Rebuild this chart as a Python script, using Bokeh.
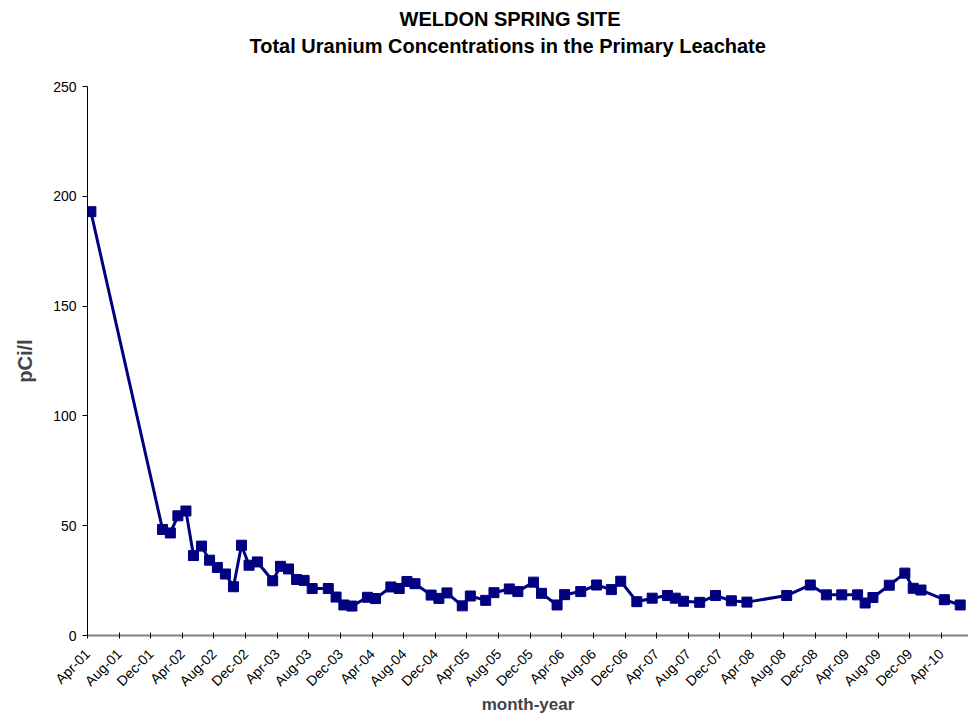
import math
import pandas as pd
from bokeh.plotting import figure
from bokeh.models import FixedTicker, DatetimeTickFormatter, Range1d, Title, ColumnDataSource
from bokeh.embed import file_html
from bokeh.resources import INLINE

# ---- data ----
dates = [
    "2001-04-14",
    "2002-01-15", "2002-02-14", "2002-03-15", "2002-04-15", "2002-05-14", "2002-06-14",
    "2002-07-15", "2002-08-14", "2002-09-14", "2002-10-15", "2002-11-15", "2002-12-14",
    "2003-01-15", "2003-03-15", "2003-04-14", "2003-05-15", "2003-06-15", "2003-07-14",
    "2003-08-14", "2003-10-15", "2003-11-14", "2003-12-14",
    "2004-01-14", "2004-03-14", "2004-04-14", "2004-06-12", "2004-07-14", "2004-08-13",
    "2004-09-13", "2004-11-14", "2004-12-14",
    "2005-01-14", "2005-03-14", "2005-04-14", "2005-06-12", "2005-07-14", "2005-09-11",
    "2005-10-14", "2005-12-13",
    "2006-01-13", "2006-03-14", "2006-04-12", "2006-06-13", "2006-08-13", "2006-10-09",
    "2006-11-14",
    "2007-01-15", "2007-03-15", "2007-05-13", "2007-06-12", "2007-07-14", "2007-09-14",
    "2007-11-14",
    "2008-01-14", "2008-03-14", "2008-08-14", "2008-11-13",
    "2009-01-14", "2009-03-14", "2009-05-14", "2009-06-12", "2009-07-12", "2009-09-13",
    "2009-11-12", "2009-12-14",
    "2010-01-13", "2010-04-13", "2010-06-13",
]
uranium = [
    193.0,
    48.3, 46.7, 54.5, 56.7, 36.4, 40.7,
    34.3, 31.0, 28.0, 22.2, 41.1, 32.0,
    33.5, 24.9, 31.5, 30.3, 25.5, 25.1,
    21.4, 21.4, 17.5, 13.9,
    13.4, 17.4, 16.8, 22.1, 21.4, 24.6,
    23.6, 18.4, 16.9,
    19.4, 13.5, 18.0, 16.0, 19.5, 21.2,
    20.0, 24.3,
    19.2, 13.9, 18.6, 20.0, 23.0, 20.9,
    24.7,
    15.4, 17.0, 18.2, 17.0, 15.6, 15.1,
    18.2,
    15.8, 15.2, 18.2, 23.0,
    18.5, 18.5, 18.5, 14.8, 17.3, 22.9,
    28.4, 21.5,
    20.7, 16.3, 13.9,
]
tick_dates = [f"{y}-{m:02d}-01" for y in range(2001, 2011) for m in (4, 8, 12)
              if not (y == 2010 and m > 4)]
y_ticks = [0, 50, 100, 150, 200, 250]

title_line1 = "WELDON SPRING SITE"
title_line2 = "Total Uranium Concentrations in the Primary Leachate"

# ---- build ----
src = ColumnDataSource(dict(x=pd.to_datetime(dates), y=uranium))

def ms(s):
    return pd.Timestamp(s).value / 1e6

p = figure(width=968, height=716, x_axis_type="datetime",
           output_backend="svg", toolbar_location=None,
           x_range=Range1d(ms("2001-04-01"), ms("2010-07-15")),
           y_range=Range1d(0, 250),
           min_border_left=87, min_border_right=0, min_border_top=86, min_border_bottom=81)
p.outline_line_color = None
p.xgrid.grid_line_color = None
p.ygrid.grid_line_color = None
p.background_fill_color = "white"
p.border_fill_color = "white"

p.line("x", "y", source=src, line_color="#000080", line_width=3)
p.scatter("x", "y", source=src, marker="square", size=10, fill_color="#000080",
          line_color="#000080")

# titles (stacked outward from the plot frame)
spacer = Title(text=" ", align="left", text_font="Liberation Sans",
               text_font_size="20px", standoff=3)
t2 = Title(text=title_line2, align="left", text_font="Liberation Sans",
           text_font_size="20px", text_font_style="bold", text_color="black",
           offset=162, standoff=6)
t1 = Title(text=title_line1, align="left", text_font="Liberation Sans",
           text_font_size="20px", text_font_style="bold", text_color="black",
           offset=312, standoff=0)
p.add_layout(spacer, "above")
p.add_layout(t2, "above")
p.add_layout(t1, "above")

# x axis
xa = p.xaxis[0]
xa.ticker = FixedTicker(ticks=[ms(d) for d in tick_dates], minor_ticks=[])
xa.formatter = DatetimeTickFormatter(days="%b-%y", months="%b-%y", years="%b-%y",
                                     hours="%b-%y", minutes="%b-%y")
xa.major_label_orientation = math.pi / 4
xa.major_label_text_font = "Liberation Sans"
xa.major_label_text_font_size = "14px"
xa.major_label_text_color = "black"
xa.major_label_standoff = 13
xa.axis_line_color = "#808080"
xa.axis_line_width = 2
xa.major_tick_line_color = "black"
xa.major_tick_in = 3
xa.major_tick_out = 3
xa.minor_tick_line_color = None
xa.axis_label = "month-year"
xa.axis_label_text_font = "Liberation Sans"
xa.axis_label_text_font_size = "17px"
xa.axis_label_text_font_style = "bold"
xa.axis_label_standoff = -3

# y axis
ya = p.yaxis[0]
ya.ticker = FixedTicker(ticks=y_ticks, minor_ticks=[])
ya.major_label_text_font = "Liberation Sans"
ya.major_label_text_font_size = "14px"
ya.major_label_text_color = "black"
ya.major_label_standoff = 6
ya.axis_line_color = "black"
ya.major_tick_line_color = "black"
ya.major_tick_in = 0
ya.major_tick_out = 5
ya.minor_tick_line_color = None
ya.axis_label = "pCi/l"
ya.axis_label_text_font = "Liberation Sans"
ya.axis_label_text_font_size = "20px"
ya.axis_label_text_font_style = "bold"
ya.axis_label_standoff = 14

open("out.html", "w").write(file_html(p, INLINE))
